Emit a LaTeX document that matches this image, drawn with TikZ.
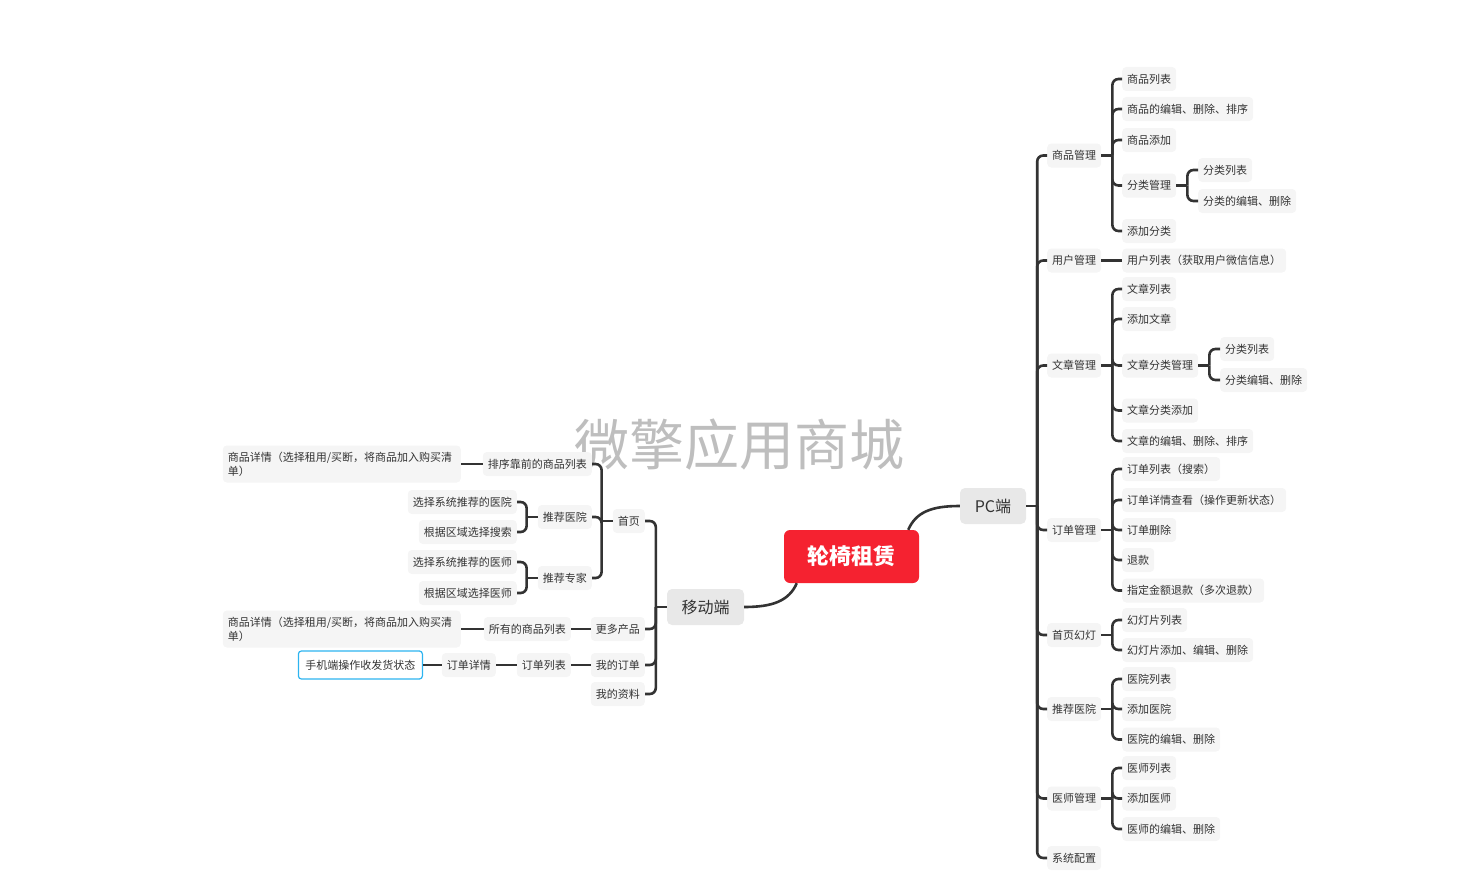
\documentclass[tikz,border=0pt]{standalone}
\usepackage{fontspec}
\setmainfont{Noto Sans CJK SC}
\definecolor{rootred}{RGB}{245,34,48}
\definecolor{mainbg}{RGB}{232,232,232}
\definecolor{leafbg}{RGB}{245,245,245}
\definecolor{linec}{RGB}{51,51,51}
\definecolor{txt}{RGB}{51,51,51}
\definecolor{wm}{RGB}{190,190,190}
\definecolor{blueb}{RGB}{45,180,240}
\newcommand\rbr[2]{\draw[conn] (#1.east) -- ++(11,0) coordinate (#1j);
  \foreach \nn in {#2} {\draw[conn,rounded corners=6pt] (#1j) |- (\nn.west);}}
\newcommand\lbr[2]{\draw[conn] (#1.west) -- ++(-11,0) coordinate (#1j);
  \foreach \nn in {#2} {\draw[conn,rounded corners=6pt] (#1j) |- (\nn.east);}}
\tikzset{
  conn/.style={draw=linec, line width=2.6pt},
  leaf/.style={fill=leafbg, rounded corners=4pt, inner xsep=5pt, inner ysep=0pt,
    minimum height=24pt, text=txt, font=\fontsize{11}{14}\selectfont},
  rl/.style={leaf, anchor=west},
  ll/.style={leaf, anchor=east},
  twoline/.style={ll, text width=228pt, align=left, minimum height=37pt},
  mainnode/.style={fill=mainbg, rounded corners=5pt, text=txt, minimum height=36pt,
    inner xsep=0pt, font=\fontsize{16}{18}\selectfont},
  rootnode/.style={fill=rootred, rounded corners=6pt, text=white, minimum width=135pt,
    minimum height=53pt, font=\fontsize{22}{24}\selectfont\bfseries},
  bluenode/.style={ll, fill=white, draw=blueb, line width=1.2pt, rounded corners=3pt,
    minimum height=28pt, inner xsep=7pt},
  wmark/.style={text=wm, font=\fontsize{55}{56}\selectfont}
}
\begin{document}
\begin{tikzpicture}[x=1pt,y=-1pt]
\useasboundingbox (0,0) rectangle (1476,891);
% watermark
\node[wmark] (wmk) at (739,445) {微擎应用商城};
% main nodes
\node[rootnode] (root) at (851.5,556.5) {轮椅租赁};
\node[mainnode, minimum width=66pt] (pc) at (993,506) {PC端};
\node[mainnode, minimum width=77pt] (mob) at (705.5,607) {移动端};
% PC level 2
\node[rl] (p1) at (1047,155.5) {商品管理};
\node[rl] (p2) at (1047,260.5) {用户管理};
\node[rl] (p3) at (1047,365.5) {文章管理};
\node[rl] (p4) at (1047,530) {订单管理};
\node[rl] (p5) at (1047,635) {首页幻灯};
\node[rl] (p6) at (1047,709) {推荐医院};
\node[rl] (p7) at (1047,798.5) {医师管理};
\node[rl] (p8) at (1047,858) {系统配置};
% PC level 3
\node[rl] (p1a) at (1122,79) {商品列表};
\node[rl] (p1b) at (1122,109) {商品的编辑、删除、排序};
\node[rl] (p1c) at (1122,140) {商品添加};
\node[rl] (p1d) at (1122,185.5) {分类管理};
\node[rl] (p1e) at (1122,231) {添加分类};
\node[rl] (p1d1) at (1198,170) {分类列表};
\node[rl] (p1d2) at (1198,201) {分类的编辑、删除};
\node[rl] (p2a) at (1122,260.5) {用户列表（获取用户微信信息）};
\node[rl] (p3a) at (1122,289) {文章列表};
\node[rl] (p3b) at (1122,319) {添加文章};
\node[rl] (p3c) at (1122,365.5) {文章分类管理};
\node[rl] (p3d) at (1122,410.5) {文章分类添加};
\node[rl] (p3e) at (1122,441) {文章的编辑、删除、排序};
\node[rl] (p3c1) at (1220,349) {分类列表};
\node[rl] (p3c2) at (1220,380) {分类编辑、删除};
\node[rl] (p4a) at (1122,469) {订单列表（搜索）};
\node[rl] (p4b) at (1122,500) {订单详情查看（操作更新状态）};
\node[rl] (p4c) at (1122,530) {订单删除};
\node[rl] (p4d) at (1122,560) {退款};
\node[rl] (p4e) at (1122,590.5) {指定金额退款（多次退款）};
\node[rl] (p5a) at (1122,620) {幻灯片列表};
\node[rl] (p5b) at (1122,650) {幻灯片添加、编辑、删除};
\node[rl] (p6a) at (1122,679) {医院列表};
\node[rl] (p6b) at (1122,709) {添加医院};
\node[rl] (p6c) at (1122,739.5) {医院的编辑、删除};
\node[rl] (p7a) at (1122,768) {医师列表};
\node[rl] (p7b) at (1122,798.5) {添加医师};
\node[rl] (p7c) at (1122,829) {医师的编辑、删除};
% mobile side
\node[ll] (m1) at (645,521) {首页};
\node[ll] (m2) at (645,629) {更多产品};
\node[ll] (m3) at (645,665) {我的订单};
\node[ll] (m4) at (645,694) {我的资料};
\node[ll] (m1a) at (592,464) {排序靠前的商品列表};
\node[ll] (m1b) at (592,517) {推荐医院};
\node[ll] (m1c) at (592,578) {推荐专家};
\node[twoline] (m1a1) at (461,464) {商品详情（选择租用/买断，将商品加入购买清\\单）};
\node[ll] (m1b1) at (517,502) {选择系统推荐的医院};
\node[ll] (m1b2) at (517,532) {根据区域选择搜索};
\node[ll] (m1c1) at (517,562) {选择系统推荐的医师};
\node[ll] (m1c2) at (517,593) {根据区域选择医师};
\node[ll] (m2a) at (571,629) {所有的商品列表};
\node[twoline] (m2a1) at (461,629) {商品详情（选择租用/买断，将商品加入购买清\\单）};
\node[ll] (m3a) at (571,665) {订单列表};
\node[ll] (m3a1) at (496,665) {订单详情};
\node[bluenode] (m3a1a) at (423,665) {手机端操作收发货状态};
% root connectors
\draw[conn] ([xshift=-11pt]root.north east) .. controls +(8,-18) and +(-28,0) .. (pc.west);
\draw[conn] ([xshift=13pt]root.south west) .. controls +(-8,18) and +(28,0) .. (mob.east);
% PC tree
\rbr{pc}{p1,p2,p3,p4,p5,p6,p7,p8}
\rbr{p1}{p1a,p1b,p1c,p1d,p1e}
\rbr{p1d}{p1d1,p1d2}
\draw[conn] (p2.east) -- (p2a.west);
\rbr{p3}{p3a,p3b,p3c,p3d,p3e}
\rbr{p3c}{p3c1,p3c2}
\rbr{p4}{p4a,p4b,p4c,p4d,p4e}
\rbr{p5}{p5a,p5b}
\rbr{p6}{p6a,p6b,p6c}
\rbr{p7}{p7a,p7b,p7c}
% mobile tree
\lbr{mob}{m1,m2,m3,m4}
\lbr{m1}{m1a,m1b,m1c}
\draw[conn] (m1a.west) -- (m1a1.east);
\lbr{m1b}{m1b1,m1b2}
\lbr{m1c}{m1c1,m1c2}
\draw[conn] (m2.west) -- (m2a.east);
\draw[conn] (m2a.west) -- (m2a1.east);
\draw[conn] (m3.west) -- (m3a.east);
\draw[conn] (m3a.west) -- (m3a1.east);
\draw[conn] (m3a1.west) -- (m3a1a.east);
\end{tikzpicture}
\end{document}
